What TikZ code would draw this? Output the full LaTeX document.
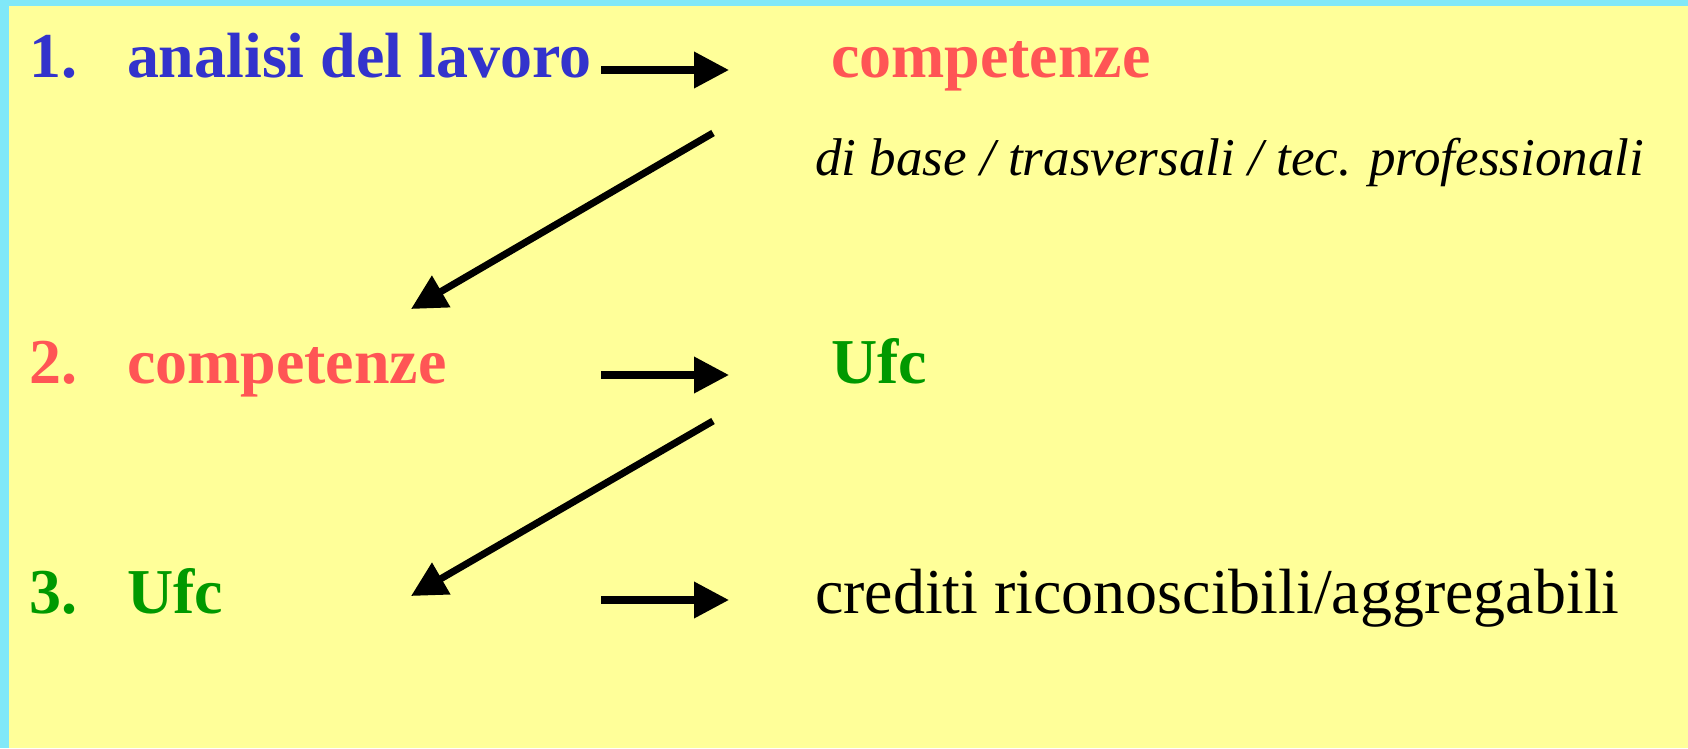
\documentclass[tikz,border=0pt]{standalone}
\usepackage{fontspec}
\setmainfont{Liberation Serif}
\usetikzlibrary{arrows.meta}
\definecolor{fondo}{HTML}{FFFF99}
\definecolor{bordo}{HTML}{80E8F8}
\definecolor{blu}{HTML}{3333CC}
\definecolor{rosso}{HTML}{FF5555}
\definecolor{verde}{HTML}{009900}

\begin{document}
\begin{tikzpicture}
  [x=0.02cm,y=-0.02cm,
    every node/.style={anchor=base west,inner sep=0pt,outer sep=0pt},
    titolo/.style={font=\fontsize{36.4}{40}\selectfont\bfseries},
    testo/.style={font=\fontsize{36.4}{40}\selectfont},
    nota/.style={font=\fontsize{30.2}{34}\selectfont\itshape},
    freccia/.style={line width=4pt,-{Triangle[length=0.7cm,width=0.7cm]}},
]
  \fill[fondo] (0,0) rectangle (1688,748);
  \fill[bordo] (0,0) rectangle (1688,6);
  \fill[bordo] (0,0) rectangle (9,748);
  \useasboundingbox (0,0) rectangle (1688,748);

  % riga 1
  \node[titolo,blu] (n1) at (30,77) {1.};
  \node[titolo,blu] (analisi) at (127,77) {analisi del lavoro};
  \node[titolo,rosso] (comp1) at (831,77) {competenze};
  \node[nota] (tipi) at (815,175) {di base / trasversali / tec. professionali};
  % riga 2
  \node[titolo,rosso] (n2) at (30,383) {2.};
  \node[titolo,rosso] (comp2) at (127,383) {competenze};
  \node[titolo,verde] (ufc1) at (831,383) {Ufc};
  % riga 3
  \node[titolo,verde] (n3) at (30,613) {3.};
  \node[titolo,verde] (ufc2) at (127,613) {Ufc};
  \node[testo] (crediti) at (815,613) {crediti riconoscibili/aggregabili};

  \coordinate (a1) at (601,70);  \coordinate (b1) at (729,70);
  \coordinate (a2) at (601,375); \coordinate (b2) at (729,375);
  \coordinate (a3) at (601,600); \coordinate (b3) at (729,600);
  \coordinate (d1) at (713,133); \coordinate (e1) at (411,309);
  \coordinate (d2) at (713,421); \coordinate (e2) at (411,596);

  \draw[freccia] (a1) -- (b1);
  \draw[freccia] (a2) -- (b2);
  \draw[freccia] (a3) -- (b3);
  \draw[freccia] (d1) -- (e1);
  \draw[freccia] (d2) -- (e2);
\end{tikzpicture}
\end{document}
